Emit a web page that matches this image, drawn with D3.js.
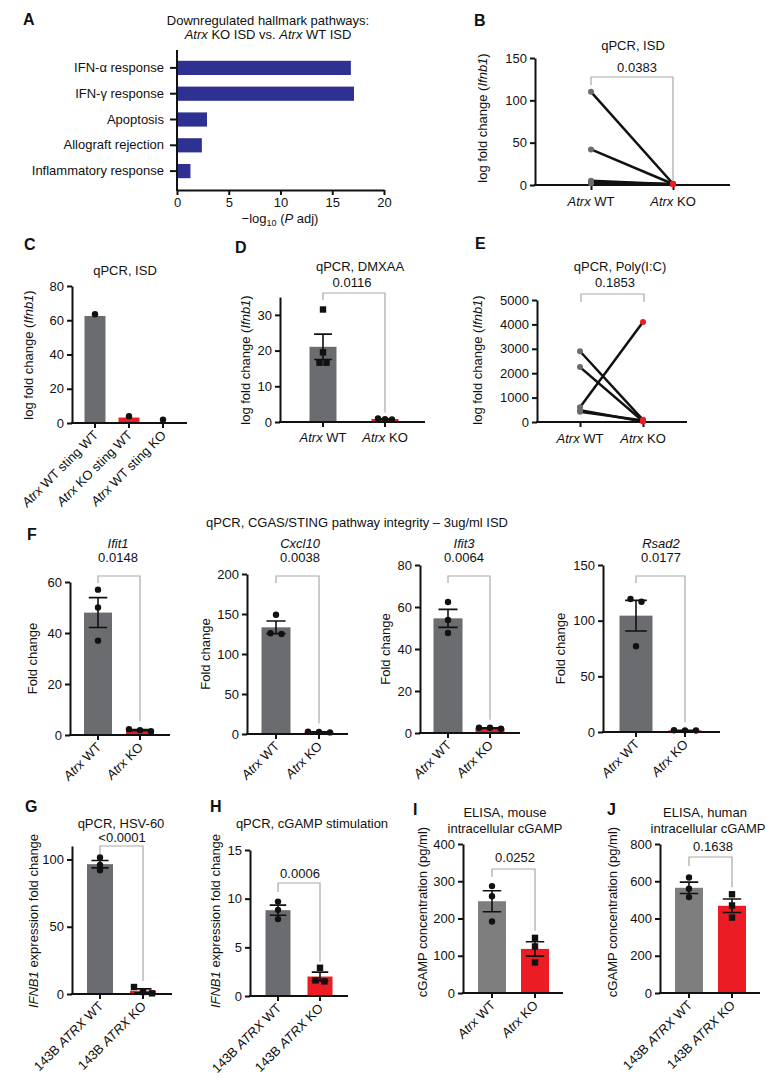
<!DOCTYPE html>
<html>
<head>
<meta charset="utf-8">
<script src="https://cdn.jsdelivr.net/npm/d3@7"></script>
<style>
body { margin: 0; background: #fff; }
svg { font-family: "Liberation Sans", Arial, sans-serif; }
</style>
</head>
<body>
<svg id="fig" width="784" height="1089"></svg>
<script>

// A - hallmark pathways
var pathwayNames = ["IFN-α response", "IFN-γ response", "Apoptosis", "Allograft rejection", "Inflammatory response"];
var pathwayScores = [16.8, 17.1, 2.9, 2.4, 1.3];
var pathwayTicks = [0, 5, 10, 15, 20];

// B, E - paired lines
var pairedGroups = ["_Atrx_ WT", "_Atrx_ KO"];
var isdWT = [110, 42, 5, 3.5, 2];
var isdKO = [1.5, 1.2, 1, 1, 0.8];
var isdTicks = [0, 50, 100, 150];
var polyWT = [2900, 2250, 600, 480, 420];
var polyKO = [90, 30, 4100, 20, 60];
var polyTicks = [0, 1000, 2000, 3000, 4000, 5000];

// C - sting
var stingGroups = ["_Atrx_ WT sting WT", "_Atrx_ KO sting WT", "_Atrx_ WT sting KO"];
var stingBars = [62.5, 3.2, 0.6];
var stingDots = [63.5, 4, 2];
var stingTicks = [0, 20, 40, 60, 80];

// D - DMXAA
var dmxaaWT = [31.5, 19.5, 16.6, 16.6];
var dmxaaKO = [1.0, 0.8, 0.7];
var dmxaaTicks = [0, 10, 20, 30];

// F - pathway integrity
var fGenes = ["Ifit1", "Cxcl10", "Ifit3", "Rsad2"];
var fPvalues = ["0.0148", "0.0038", "0.0064", "0.0177"];
var fWT = [[57, 50, 37], [149, 125, 126], [62.4, 53.8, 47.6], [119.5, 117, 77]];
var fKO = [[2.3, 1.9, 1.5], [3, 2.5, 2], [2.5, 2.5, 2], [1.6, 1.5, 1.4]];
var fTicks = [[0, 20, 40, 60], [0, 50, 100, 150, 200], [0, 20, 40, 60, 80], [0, 50, 100, 150]];

// G-J
var mouseGroups = ["_Atrx_ WT", "_Atrx_ KO"];
var humanGroups = ["143B _ATRX_ WT", "143B _ATRX_ KO"];
var hsvWT = [101.5, 96, 92];
var hsvKO = [5.2, 1.5, 0.5];
var hsvTicks = [0, 50, 100];
var stimWT = [9.7, 8.85, 7.9];
var stimKO = [2.9, 1.6, 1.5];
var stimTicks = [0, 5, 10, 15];
var mouseElisaWT = [287, 260, 192];
var mouseElisaKO = [148, 125, 82];
var mouseElisaTicks = [0, 100, 200, 300, 400];
var humanElisaWT = [620, 560, 515];
var humanElisaKO = [530, 470, 405];
var humanElisaTicks = [0, 200, 400, 600, 800];

var svg = d3.select("#fig");
var GREY = "#6b6c6f", GREY2 = "#7e7e7e", RED = "#ec1c24", BLUE = "#2e3192", BRK = "#a9a9a9", INK = "#111";

// text with _italic_ parts
function rich(sel, str) {
    str.split(/(_[^_]+_)/).forEach(function(part) {
        if (!part) return;
        var it = part.charAt(0) === "_";
        sel.append("tspan").style("font-style", it ? "italic" : "normal").text(it ? part.slice(1, -1) : part);
    });
    return sel;
}

function txt(x, y, str, opt) {
    opt = opt || {};
    var t = svg.append("text").attr("x", x).attr("y", y)
        .attr("text-anchor", opt.anchor || "middle")
        .attr("font-size", opt.size || 13)
        .attr("font-weight", opt.weight || "normal")
        .attr("fill", INK);
    if (opt.rotate != null) t.attr("transform", "rotate(" + opt.rotate + "," + x + "," + y + ")");
    return rich(t, str);
}

function letter(x, y, s) {
    txt(x, y, s, {size: 16, weight: "bold", anchor: "start"});
}

function styleAxis(g) {
    g.attr("font-family", null).attr("font-size", 13);
    g.select(".domain").attr("stroke-width", 2).attr("stroke", INK);
    g.selectAll(".tick line").attr("stroke-width", 2).attr("stroke", INK);
    g.selectAll(".tick text").attr("fill", INK);
    return g;
}

function yAxis(x0, y, ticks) {
    var g = svg.append("g").attr("transform", "translate(" + x0 + ",0)")
        .call(d3.axisLeft(y).tickValues(ticks).tickFormat(d3.format("d"))
            .tickSize(5).tickPadding(3).tickSizeOuter(0));
    return styleAxis(g);
}

function xAxis(x, x0, xEnd, base) {
    var g = svg.append("g").attr("transform", "translate(0," + base + ")")
        .call(d3.axisBottom(x).tickSize(5).tickFormat(""));
    g.select(".domain").remove();
    styleAxis(g);
    svg.append("line").attr("x1", x0 - 1).attr("x2", xEnd).attr("y1", base).attr("y2", base)
        .attr("stroke", INK).attr("stroke-width", 2);
}

function bracket(x1, x2, yb, yl, yr) {
    svg.append("path")
        .attr("d", "M" + x1 + "," + yl + "V" + yb + "H" + x2 + "V" + yr)
        .attr("fill", "none").attr("stroke", BRK).attr("stroke-width", 1.2);
}

function dots(g, vals, cx, y, shape, color, r, spread) {
    var items = vals.map(function(v) { return {v: v, py: y(v)}; })
        .sort(function(a, b) { return a.py - b.py; });
    var groups = [], cur = [];
    items.forEach(function(it) {
        if (cur.length && it.py - cur[cur.length - 1].py > 5) { groups.push(cur); cur = []; }
        cur.push(it);
    });
    if (cur.length) groups.push(cur);
    groups.forEach(function(gr) {
        gr.forEach(function(it, k) { it.dx = (k - (gr.length - 1) / 2) * spread; });
    });
    if (shape === "square") {
        g.selectAll(null).data(items).join("rect")
            .attr("x", function(d) { return cx + d.dx - r; })
            .attr("y", function(d) { return d.py - r; })
            .attr("width", 2 * r).attr("height", 2 * r).attr("fill", color);
    } else {
        g.selectAll(null).data(items).join("circle")
            .attr("cx", function(d) { return cx + d.dx; })
            .attr("cy", function(d) { return d.py; })
            .attr("r", r).attr("fill", color);
    }
}

function barPanel(c) {
    var y = d3.scaleLinear().domain([0, c.max]).range([c.base, c.top]);
    var n = c.cats.length, pad = 1 - c.bw / c.step;
    var x = d3.scaleBand().domain(c.cats)
        .range([c.c0 - c.step / 2, c.c0 - c.step / 2 + n * c.step])
        .paddingInner(pad).paddingOuter(pad / 2);
    var cxs = c.cats.map(function(d) { return x(d) + x.bandwidth() / 2; });
    var g = svg.append("g");

    c.sets.forEach(function(s, i) {
        var m = s.bar != null ? s.bar : d3.mean(s.pts);
        g.append("rect").attr("x", x(c.cats[i])).attr("width", x.bandwidth())
            .attr("y", y(m)).attr("height", y(0) - y(m)).attr("fill", s.color);
    });

    yAxis(c.x0, y, c.ticks);
    xAxis(x, c.x0, c.xEnd, c.base);

    var pg = svg.append("g");
    c.sets.forEach(function(s, i) {
        if (s.pts.length > 1) {
            var m = d3.mean(s.pts), se = d3.deviation(s.pts) / Math.sqrt(s.pts.length);
            var cw = x.bandwidth() * 0.33, cx = cxs[i];
            pg.append("path")
                .attr("d", "M" + cx + "," + y(m - se) + "V" + y(m + se) +
                    "M" + (cx - cw) + "," + y(m + se) + "H" + (cx + cw) +
                    "M" + (cx - cw) + "," + y(m - se) + "H" + (cx + cw))
                .attr("stroke", INK).attr("stroke-width", 1.6).attr("fill", "none");
        }
        dots(pg, s.pts, cxs[i], y, s.shape || "circle", INK, c.r || 3.2, c.spread || 9);
    });

    if (c.rotate) {
        c.cats.forEach(function(l, i) {
            txt(cxs[i] + 4, c.base + 13, l, {anchor: "end", rotate: -45});
        });
    } else {
        c.cats.forEach(function(l, i) { txt(cxs[i], c.base + 20, l); });
    }
    return {x: x, y: y, cxs: cxs};
}

function pairedPanel(c) {
    var y = d3.scaleLinear().domain([0, c.max]).range([c.base, c.top]);
    var x = d3.scalePoint().domain(pairedGroups).range([c.wx, c.kx]);
    yAxis(c.x0, y, c.ticks);
    svg.append("g").attr("transform", "translate(0," + c.base + ")")
        .call(d3.axisBottom(x).tickSize(5).tickFormat(""))
        .call(function(g) { g.select(".domain").remove(); styleAxis(g); });
    svg.append("line").attr("x1", c.x0 - 1).attr("x2", c.xEnd).attr("y1", c.base).attr("y2", c.base)
        .attr("stroke", INK).attr("stroke-width", 2);

    var g = svg.append("g");
    g.selectAll("line").data(c.wt).join("line")
        .attr("x1", x(pairedGroups[0])).attr("x2", x(pairedGroups[1]))
        .attr("y1", function(d) { return y(d); })
        .attr("y2", function(d, i) { return y(c.ko[i]); })
        .attr("stroke", INK).attr("stroke-width", 2.5);
    g.selectAll(".wt").data(c.wt).join("circle").attr("class", "wt")
        .attr("cx", x(pairedGroups[0])).attr("cy", function(d) { return y(d); })
        .attr("r", 3).attr("fill", GREY);
    g.selectAll(".ko").data(c.ko).join("circle").attr("class", "ko")
        .attr("cx", x(pairedGroups[1])).attr("cy", function(d) { return y(d); })
        .attr("r", 3).attr("fill", RED);
    pairedGroups.forEach(function(l) { txt(x(l), c.base + 21, l); });
    return {x: x, y: y};
}

// ---------- A ----------
letter(23, 25, "A");
txt(268, 25, "Downregulated hallmark pathways:");
txt(268, 39, "_Atrx_ KO ISD vs. _Atrx_ WT ISD");
(function() {
    var x = d3.scaleLinear().domain([0, 20]).range([177, 384]);
    var y = d3.scaleBand().domain(pathwayNames).range([55, 184]).paddingInner(0.45).paddingOuter(0.225);
    svg.append("g").selectAll("rect").data(pathwayNames).join("rect")
        .attr("x", x(0)).attr("y", function(d) { return y(d); })
        .attr("height", y.bandwidth())
        .attr("width", function(d, i) { return x(pathwayScores[i]) - x(0); })
        .attr("fill", BLUE);
    var ya = svg.append("g").attr("transform", "translate(177,0)")
        .call(d3.axisLeft(y).tickSize(7).tickPadding(6));
    ya.select(".domain").remove();
    styleAxis(ya);
    svg.append("line").attr("x1", 177).attr("x2", 177).attr("y1", 50).attr("y2", 191)
        .attr("stroke", INK).attr("stroke-width", 2);
    var xa = svg.append("g").attr("transform", "translate(0,190)")
        .call(d3.axisBottom(x).tickValues(pathwayTicks).tickSize(5).tickPadding(3).tickSizeOuter(0));
    styleAxis(xa);
    var t = svg.append("text").attr("x", 280).attr("y", 223).attr("text-anchor", "middle")
        .attr("font-size", 13).attr("fill", INK);
    t.append("tspan").text("−log");
    t.append("tspan").attr("font-size", 9).attr("dy", 3).text("10");
    t.append("tspan").attr("dy", -3).text(" (");
    t.append("tspan").style("font-style", "italic").text("P");
    t.append("tspan").text(" adj)");
})();

// ---------- B ----------
letter(474, 26, "B");
txt(633, 50, "qPCR, ISD");
txt(637, 72, "0.0383");
pairedPanel({x0: 535, xEnd: 730, wx: 591, kx: 673, top: 58, base: 185, max: 150, ticks: isdTicks, wt: isdWT, ko: isdKO});
bracket(591, 673, 77, 85, 181);
txt(487, 118, "log fold change (_Ifnb1_)", {rotate: -90});

// ---------- C ----------
letter(24, 250, "C");
txt(125, 275, "qPCR, ISD");
barPanel({
    cats: stingGroups, x0: 72, xEnd: 187, c0: 95, step: 34, bw: 21, top: 286, base: 423, max: 80,
    ticks: stingTicks, rotate: true,
    sets: stingBars.map(function(b, i) { return {bar: b, pts: [stingDots[i]], color: [GREY, RED, "#dadada"][i]}; })
});
txt(33, 355, "log fold change (_Ifnb1_)", {rotate: -90});

// ---------- D ----------
letter(235, 253, "D");
txt(360, 271, "qPCR, DMXAA");
txt(352, 287, "0.0116");
var pd = barPanel({
    cats: pairedGroups, x0: 280, xEnd: 425, c0: 323, step: 62, bw: 27, top: 297, base: 422, max: 35,
    ticks: dmxaaTicks, rotate: false, spread: 7,
    sets: [{pts: dmxaaWT, color: GREY, shape: "square"}, {pts: dmxaaKO, color: RED}]
});
bracket(pd.cxs[0], pd.cxs[1], 293, 300, pd.y(d3.max(dmxaaKO)) - 6);
txt(250, 360, "log fold change (_Ifnb1_)", {rotate: -90});

// ---------- E ----------
letter(475, 249, "E");
txt(620, 271, "qPCR, Poly(I:C)");
txt(615, 287, "0.1853");
pairedPanel({x0: 537, xEnd: 687, wx: 580, kx: 643, top: 300, base: 422, max: 5000, ticks: polyTicks, wt: polyWT, ko: polyKO});
bracket(581, 644, 294, 302, 302);
txt(482, 360, "log fold change (_Ifnb1_)", {rotate: -90});

// ---------- F ----------
letter(27, 540, "F");
txt(357, 527, "qPCR, CGAS/STING pathway integrity – 3ug/ml ISD");
var fLayout = [
    {x0: 70, xEnd: 170, c0: 98, step: 42, bw: 28, top: 582, base: 735, tx: 118, yt: 37},
    {x0: 247, xEnd: 348, c0: 276, step: 43, bw: 29, top: 574, base: 734, tx: 300, yt: 210},
    {x0: 420, xEnd: 520, c0: 448, step: 42, bw: 29, top: 565, base: 733, tx: 464, yt: 390},
    {x0: 603, xEnd: 720, c0: 636, step: 49, bw: 33, top: 565, base: 732, tx: 661, yt: 565}
];
fGenes.forEach(function(gene, i) {
    var L = fLayout[i];
    txt(L.tx, 548, "_" + gene + "_");
    txt(L.tx, 562, fPvalues[i]);
    var p = barPanel({
        cats: mouseGroups, x0: L.x0, xEnd: L.xEnd, c0: L.c0, step: L.step, bw: L.bw, top: L.top, base: L.base,
        max: fTicks[i][fTicks[i].length - 1], ticks: fTicks[i], rotate: true, spread: 11,
        sets: [{pts: fWT[i], color: GREY}, {pts: fKO[i], color: RED}]
    });
    bracket(p.cxs[0], p.cxs[1], 576, 583, p.y(d3.max(fKO[i])) - 8);
    txt(L.yt, (L.top + L.base) / 2, "Fold change", {rotate: -90});
});

// ---------- G ----------
letter(25, 812, "G");
txt(121, 828, "qPCR, HSV-60");
txt(122, 842, "<0.0001");
var pg = barPanel({
    cats: humanGroups, x0: 72, xEnd: 172, c0: 100, step: 43, bw: 26, top: 846, base: 994, max: 110,
    ticks: hsvTicks, rotate: true,
    sets: [{pts: hsvWT, color: GREY}, {pts: hsvKO, color: RED, shape: "square"}]
});
bracket(pg.cxs[0], pg.cxs[1], 846, 854, pg.y(d3.max(hsvKO)) - 6);
txt(38, 921, "_IFNB1_ expression fold change", {rotate: -90});

// ---------- H ----------
letter(210, 812, "H");
txt(312, 828, "qPCR, cGAMP stimulation");
txt(300, 878, "0.0006");
var ph = barPanel({
    cats: humanGroups, x0: 250, xEnd: 348, c0: 278, step: 42, bw: 25, top: 850, base: 996, max: 15,
    ticks: stimTicks, rotate: true,
    sets: [{pts: stimWT, color: GREY}, {pts: stimKO, color: RED, shape: "square"}]
});
bracket(ph.cxs[0], ph.cxs[1], 883, 892, ph.y(d3.max(stimKO)) - 6);
txt(220, 921, "_IFNB1_ expression fold change", {rotate: -90});

// ---------- I ----------
letter(413, 815, "I");
txt(505, 817, "ELISA, mouse");
txt(505, 833, "intracellular cGAMP");
txt(515, 862, "0.0252");
var pi = barPanel({
    cats: mouseGroups, x0: 463, xEnd: 563, c0: 492, step: 43, bw: 28, top: 844, base: 993, max: 400,
    ticks: mouseElisaTicks, rotate: true,
    sets: [{pts: mouseElisaWT, color: GREY2}, {pts: mouseElisaKO, color: RED, shape: "square"}]
});
bracket(pi.cxs[0], pi.cxs[1], 869, 877, pi.y(d3.max(mouseElisaKO)) - 7);
txt(427, 912, "cGAMP concentration (pg/ml)", {rotate: -90});

// ---------- J ----------
letter(607, 815, "J");
txt(705, 817, "ELISA, human");
txt(708, 833, "intracellular cGAMP");
txt(713, 851, "0.1638");
var pj = barPanel({
    cats: humanGroups, x0: 660, xEnd: 760, c0: 689, step: 43, bw: 28, top: 844, base: 993, max: 800,
    ticks: humanElisaTicks, rotate: true,
    sets: [{pts: humanElisaWT, color: GREY2}, {pts: humanElisaKO, color: RED, shape: "square"}]
});
bracket(pj.cxs[0], pj.cxs[1], 857, 866, pj.y(d3.max(humanElisaKO)) - 7);
txt(617, 912, "cGAMP concentration (pg/ml)", {rotate: -90});

</script>
</body>
</html>
